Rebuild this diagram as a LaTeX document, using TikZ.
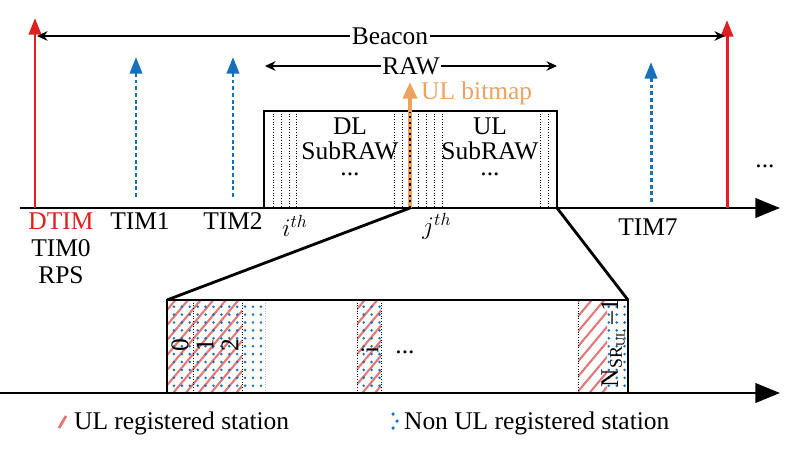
\documentclass[tikz,border=0pt]{standalone}
\usepackage{fontspec}
\setmainfont{Liberation Serif}
\usetikzlibrary{arrows.meta,patterns.meta}

\definecolor{dtimred}{RGB}{222,32,32}
\definecolor{timblue}{RGB}{22,112,190}
\definecolor{bmorange}{RGB}{238,162,96}
\definecolor{hatchred}{RGB}{228,120,120}

\tikzset{
  timeaxis/.style={line width=1.6pt,-{Triangle[length=14pt,width=11pt]}},
  dtimline/.style={draw=dtimred,line width=1.7pt,-{Triangle[length=9.5pt,width=7pt]}},
  timline/.style={draw=timblue,line width=1.7pt,dash pattern=on 2.2pt off 1.6pt,-{Triangle[length=9.5pt,width=7pt]}},
  spanline/.style={line width=0.6pt,{Stealth[length=6pt,width=5.5pt]}-{Stealth[length=6pt,width=5.5pt]}},
  frameline/.style={line width=1.6pt},
  slotline/.style={densely dotted,line width=0.5pt},
  lbl/.style={font=\fontsize{14.5}{16}\selectfont,inner sep=1pt},
  ulsta/.style={pattern={Lines[angle=50,distance=5.5pt,line width=1.2pt]},pattern color=hatchred},
  nonulsta/.style={pattern={Dots[distance=4.5pt,radius=0.8pt]},pattern color=timblue},
}

\begin{document}
\begin{tikzpicture}[x=0.02cm,y=-0.02cm]
\useasboundingbox (0,0) rectangle (800,449);

% upper time line
\coordinate (t0) at (20,208);
\coordinate (t1) at (780,208);
\draw[timeaxis] (t0) -- (t1);

% beacons
\coordinate (b0) at (35,208);
\coordinate (b0top) at (35,18);
\coordinate (b1) at (727,208);
\coordinate (b1top) at (727,20);
\draw[dtimline] (b0) -- (b0top);
\draw[dtimline] (b1) -- (b1top);

% TIMs
\coordinate (tim1) at (136,197);
\coordinate (tim1top) at (136,57);
\coordinate (tim2) at (233,197);
\coordinate (tim2top) at (233,57);
\coordinate (tim7) at (651,202);
\coordinate (tim7top) at (651,62);
\draw[timline] (tim1) -- (tim1top);
\draw[timline] (tim2) -- (tim2top);
\draw[timline] (tim7) -- (tim7top);

% Beacon and RAW spans
\coordinate (bcnL) at (37,36);
\coordinate (bcnR) at (725,36);
\draw[spanline] (bcnL) -- (bcnR);
\node[lbl,fill=white] (beacon) at (390,36) {Beacon};
\coordinate (rawL) at (265,66);
\coordinate (rawR) at (557,66);
\draw[spanline] (rawL) -- (rawR);
\node[lbl,fill=white] (raw) at (411,66) {RAW};

% RAW box
\coordinate (r0) at (264,208);
\coordinate (r1) at (557,111);
\coordinate (r2) at (557,208);
\foreach \x in {273,281,289,296,394,402,418,426,434,442,540,548}
  \draw[slotline] (\x,111) -- (\x,208);
\draw[frameline] (r0) |- (r1) -- (r2);

% UL bitmap
\coordinate (bm0) at (410,208);
\coordinate (bm1) at (410,82);
\draw[draw=bmorange,line width=2.2pt,-{Triangle[length=9.5pt,width=8pt]}] (bm0) -- (bm1);
\draw[line width=1pt,dash pattern=on 1.2pt off 2pt] (bm0) -- (410,112);
\node[lbl,text=bmorange,anchor=west] (bitmap) at (419,93) {UL bitmap};

\node[lbl,align=center,anchor=north] (dl) at (350,116) {DL\\[-2pt]SubRAW\\[-7pt]...};
\node[lbl,align=center,anchor=north] (ul) at (490,116) {UL\\[-2pt]SubRAW\\[-7pt]...};

\node[lbl] (ith) at (295,226) {$i^{th}$};
\node[lbl] (jth) at (437,226) {$j^{th}$};

% labels below the time line
\node[lbl,text=dtimred] (dtim) at (61,221) {DTIM};
\node[lbl] (tim0) at (61,248) {TIM0};
\node[lbl] (rps) at (61,275) {RPS};
\node[lbl] (tim1lbl) at (140,221) {TIM1};
\node[lbl] (tim2lbl) at (233,221) {TIM2};
\node[lbl] (tim7lbl) at (648,227) {TIM7};
\node[lbl] (more) at (765,166) {...};

% zoom into the UL SubRAW
\coordinate (z0) at (167,300);
\coordinate (z1) at (628,300);
\draw[frameline] (bm0) -- (z0);
\draw[frameline] (r2) -- (z1);

% slots
\fill[ulsta] (167,300) rectangle (242,393);
\fill[nonulsta] (167,300) rectangle (265,393);
\fill[ulsta] (357,300) rectangle (381,393);
\fill[nonulsta] (357,300) rectangle (381,393);
\fill[ulsta] (578,300) rectangle (607,393);
\fill[nonulsta] (605,300) rectangle (628,393);
\foreach \x in {193,242,357,381,578}
  \draw[slotline] (\x,300) -- (\x,393);
\draw[slotline,gray!50] (265,300) -- (265,393);

\node[lbl,rotate=90] (s0) at (180,345) {0};
\node[lbl,rotate=90] (s1) at (205,345) {1};
\node[lbl,rotate=90] (s2) at (230,345) {2};
\node[lbl,rotate=90] (si) at (370,350) {i};
\node[lbl] (sdots) at (405,352) {...};
\node[lbl,rotate=90] (slast) at (613,343) {N\textsubscript{SR\textsubscript{UL}}\,--1};

% lower time line and frame
\coordinate (u0) at (0,393);
\coordinate (u1) at (780,393);
\draw[timeaxis] (u0) -- (u1);
\draw[frameline] (167,393) |- (z1) -- (628,393);

% legend
\coordinate (lg0) at (59,428);
\coordinate (lg1) at (66,416);
\draw[hatchred,line width=1.6pt] (lg0) -- (lg1);
\node[lbl,anchor=west] (ulleg) at (72,423) {UL registered station};
\fill[timblue] (393,414) circle (1pt) (397,421) circle (1pt) (393,428) circle (1pt);
\node[lbl,anchor=west] (nonulleg) at (402,423) {Non UL registered station};
\end{tikzpicture}
\end{document}
